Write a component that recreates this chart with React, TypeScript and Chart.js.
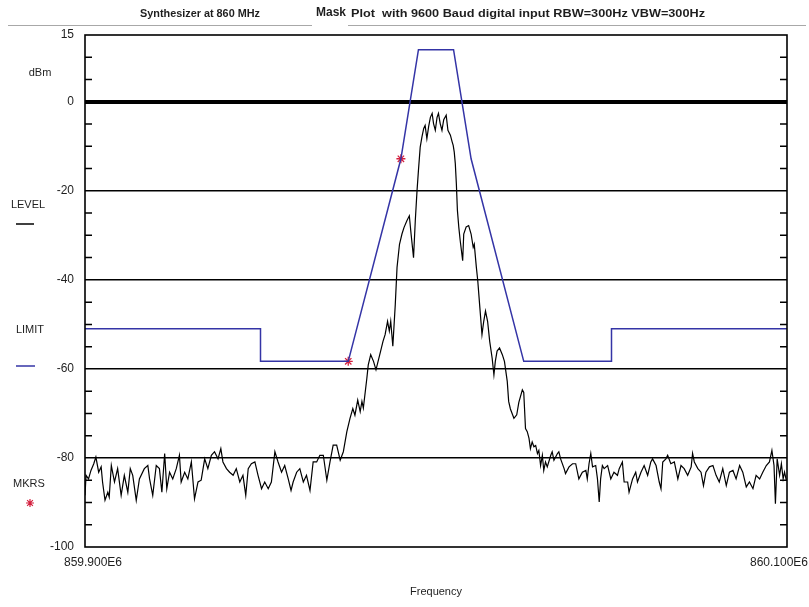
import React, { useEffect, useRef } from "react";
import { Chart, registerables } from "chart.js";

Chart.register(...registerables);

// ---------- data ----------
const START_HZ = 859.9e6;
const STOP_HZ = 860.1e6;
const Y_MIN = -100;
const Y_MAX = 15;
const Y_STEP = 5;
const Y_LABELED = [15, 0, -20, -40, -60, -80, -100];
const Y_GRID = [0, -20, -40, -60, -80];
const X_TICK_VALUES = [START_HZ, STOP_HZ];
const X_TICK_LABELS = ["859.900E6", "860.100E6"];

// measured trace: offset from start frequency (kHz) and level (dBm)
const TRACE_KHZ = [
  0, 0.3, 1.0, 1.7, 2.5, 3.1, 3.9, 4.6, 5.0, 5.7, 6.5, 6.9, 7.5, 8.4, 9.3, 10.3, 11.2, 12.2, 12.9, 13.6,
  14.6, 15.5, 16.9, 17.9, 18.4, 19.3, 20.3, 21.2, 21.9, 22.7, 23.3, 24.1, 25.0, 26.0, 26.9, 27.4, 28.4, 29.3, 30.3, 31.2,
  32.2, 33.1, 34.1, 35.0, 36.0, 36.9, 37.9, 38.7, 39.3, 40.3, 41.2, 42.2, 43.1, 44.1, 45.0, 45.8, 46.5, 47.4, 48.4, 49.3,
  50.3, 51.2, 52.2, 53.1, 54.1, 55.0, 56.0, 56.9, 57.9, 58.7, 59.3, 60.3, 61.2, 62.2, 63.1, 64.1, 65.0, 66.0, 66.9, 67.9,
  68.9, 69.8, 70.7, 71.7, 72.7, 73.6, 74.6, 75.5, 76.3, 76.9, 77.7, 78.4, 78.9, 79.3, 80.3, 80.7, 81.4, 82.2, 82.9, 84.1,
  84.9, 85.5, 86.2, 86.7, 87.1, 87.7, 88.4, 88.9, 89.6, 90.3, 90.9, 91.7, 92.4, 92.9, 93.6, 94.1, 94.6, 95.0, 95.5, 96.0,
  96.5, 96.9, 97.4, 97.9, 98.4, 98.9, 99.3, 99.8, 100.3, 100.7, 101.2, 101.7, 102.2, 102.9, 103.4, 104.1, 104.6, 104.9, 105.2, 105.5,
  105.8, 106.1, 106.5, 106.9, 107.6, 107.9, 108.6, 109.3, 110.0, 110.6, 110.9, 111.5, 111.9, 112.5, 113.1, 113.6, 114.1, 114.7, 115.3, 116.0,
  116.5, 116.9, 117.4, 118.1, 118.9, 119.5, 120.3, 120.7, 121.2, 122.2, 123.0, 123.6, 124.6, 125.0, 125.5, 126.0, 126.5, 126.9, 127.4, 127.9,
  128.4, 128.9, 129.3, 129.8, 130.3, 130.7, 131.2, 131.7, 132.7, 133.1, 133.6, 134.6, 135.0, 135.5, 136.5, 136.9, 137.9, 138.9, 139.8, 140.7,
  141.7, 142.7, 143.1, 143.6, 144.1, 144.6, 145.5, 146.0, 146.5, 146.9, 147.4, 147.9, 148.9, 149.8, 150.7, 151.7, 152.2, 153.1, 153.6, 154.6,
  155.0, 156.0, 156.9, 157.4, 158.4, 159.3, 160.3, 161.2, 161.7, 162.7, 163.6, 164.1, 164.6, 165.5, 166.0, 166.9, 167.9, 168.9, 169.8, 170.7,
  171.7, 172.7, 173.1, 173.6, 174.6, 175.5, 176.2, 176.9, 177.9, 178.9, 179.8, 180.7, 181.7, 182.7, 183.6, 184.6, 185.5, 186.5, 187.4, 188.4,
  189.3, 190.3, 191.2, 192.2, 193.1, 194.1, 195.0, 195.7, 196.3, 196.7, 197.2, 197.9, 198.4, 198.9, 199.3, 199.8,
];
const TRACE_DBM = [
  -88.4, -83.9, -84.7, -82.8, -81.3, -79.8, -83.2, -82.0, -85.4, -89.5, -87.7, -88.8, -81.7, -85.4, -82.4, -88.4, -83.9, -87.7, -82.4, -83.9,
  -89.5, -84.7, -82.4, -81.7, -84.7, -88.4, -81.7, -82.4, -87.7, -79.0, -86.9, -83.2, -84.7, -82.4, -79.4, -85.4, -83.2, -84.7, -80.9, -89.2,
  -85.4, -85.0, -80.2, -82.4, -79.4, -78.6, -80.2, -77.9, -80.9, -82.4, -83.2, -83.9, -82.4, -85.4, -83.9, -88.4, -82.4, -81.3, -80.9, -83.9,
  -86.9, -85.4, -86.9, -85.4, -78.6, -80.9, -83.2, -81.7, -84.7, -87.3, -85.4, -83.2, -82.4, -85.4, -83.9, -87.3, -80.9, -80.9, -79.4, -79.4,
  -85.0, -80.9, -77.1, -77.1, -80.5, -78.6, -74.1, -71.1, -68.9, -70.4, -67.0, -69.6, -67.3, -68.8, -62.1, -59.1, -56.8, -58.3, -60.2, -56.4,
  -53.8, -52.3, -49.3, -51.5, -49.3, -54.9, -45.5, -37.2, -32.0, -29.7, -28.2, -26.7, -25.6, -29.7, -35.0, -26.7, -19.9, -15.4, -10.2, -7.9,
  -6.0, -5.3, -8.3, -5.6, -3.5, -2.6, -4.9, -6.4, -3.5, -2.6, -4.9, -6.4, -4.0, -3.0, -6.4, -7.5, -9.0, -9.8, -11.3, -13.9,
  -18.4, -24.4, -28.2, -31.2, -35.7, -29.7, -28.1, -27.8, -29.7, -32.7, -32.0, -37.2, -40.2, -46.3, -52.3, -49.3, -47.0, -49.3, -53.8, -57.6,
  -61.3, -58.3, -56.0, -55.3, -56.8, -58.3, -62.8, -67.3, -69.0, -71.1, -70.3, -67.5, -64.7, -65.3, -73.4, -74.1, -75.6, -77.9, -76.4, -77.5,
  -77.2, -79.0, -78.3, -81.7, -79.4, -82.8, -80.9, -82.0, -79.4, -78.6, -80.5, -79.0, -78.6, -80.2, -82.4, -83.5, -82.0, -81.3, -81.3, -84.7,
  -83.2, -82.8, -84.7, -81.3, -79.0, -82.0, -81.7, -84.7, -89.9, -84.7, -81.7, -82.4, -81.7, -84.7, -83.2, -83.9, -82.4, -80.9, -85.4, -85.4,
  -87.7, -84.7, -83.2, -85.4, -83.2, -81.7, -83.9, -80.9, -80.2, -81.7, -85.4, -86.9, -80.9, -80.2, -79.4, -81.3, -80.9, -84.7, -81.7, -82.4,
  -83.9, -82.0, -79.0, -80.9, -82.4, -83.2, -86.2, -83.2, -82.0, -81.7, -83.9, -85.4, -82.4, -86.2, -83.2, -82.8, -84.7, -81.7, -83.2, -86.5,
  -85.4, -86.9, -83.9, -84.7, -83.2, -81.7, -80.9, -78.3, -81.7, -90.3, -80.2, -83.9, -81.3, -84.7, -83.2, -85.0,
];

// limit mask
const LIMIT_KHZ = [0, 50, 50, 75, 90, 95, 105, 110, 125, 150, 150, 200];
const LIMIT_DBM = [-51, -51, -58.3, -58.3, -12.8, 11.7, 11.7, -12.8, -58.3, -58.3, -51, -51];

// markers
const MARKER_KHZ = [75, 90];
const MARKER_DBM = [-58.3, -12.8];

// texts
const TITLE_LEFT = "Synthesizer at 860 MHz";
const TITLE_MASK = "Mask";
const TITLE_RIGHT = "Plot  with 9600 Baud digital input RBW=300Hz VBW=300Hz";
const Y_UNIT = "dBm";
const X_TITLE = "Frequency";
const LEGEND_LABELS = ["LEVEL", "LIMIT", "MKRS"];

// colours
const TRACE_COLOR = "#000000";
const LIMIT_COLOR = "#3434a6";
const MARKER_COLOR = "#d4203f";
const TEXT_COLOR = "#1e1e1e";
const FONT = "'Liberation Sans', Arial, sans-serif";

const toXY = (khz: number[], dbm: number[]) =>
  khz.map((k, i) => ({ x: START_HZ + k * 1000, y: dbm[i] }));

function fitted(ctx: CanvasRenderingContext2D, text: string, left: number, y: number, width: number) {
  const w = ctx.measureText(text).width;
  ctx.save();
  ctx.translate(left, y);
  ctx.scale(width / w, 1);
  ctx.textAlign = "left";
  ctx.fillText(text, 0, 0);
  ctx.restore();
}

function asterisk(ctx: CanvasRenderingContext2D, cx: number, cy: number, r: number) {
  ctx.beginPath();
  ctx.moveTo(cx - r, cy); ctx.lineTo(cx + r, cy);
  ctx.moveTo(cx, cy - r); ctx.lineTo(cx, cy + r);
  const d = r * 0.72;
  ctx.moveTo(cx - d, cy - d); ctx.lineTo(cx + d, cy + d);
  ctx.moveTo(cx - d, cy + d); ctx.lineTo(cx + d, cy - d);
  ctx.stroke();
}

const decor = {
  id: "decor",
  beforeDraw(chart: any) {
    const { ctx, width, height } = chart;
    ctx.save();
    ctx.fillStyle = "#ffffff";
    ctx.fillRect(0, 0, width, height);
    ctx.restore();
  },
  afterDraw(chart: any) {
    const { ctx, chartArea: a, scales } = chart;
    const ys = scales.y;
    const xs = scales.x;
    ctx.save();
    // minor ticks inside both borders
    ctx.strokeStyle = "#000";
    ctx.lineWidth = 1.5;
    for (let v = Y_MIN + Y_STEP; v < Y_MAX; v += Y_STEP) {
      if (Y_GRID.includes(v)) continue;
      const py = ys.getPixelForValue(v);
      ctx.beginPath();
      ctx.moveTo(a.left, py); ctx.lineTo(a.left + 7, py);
      ctx.moveTo(a.right - 7, py); ctx.lineTo(a.right, py);
      ctx.stroke();
    }
    // frame
    ctx.lineWidth = 1.6;
    ctx.strokeRect(a.left, a.top, a.right - a.left, a.bottom - a.top);

    // x tick labels
    ctx.fillStyle = TEXT_COLOR;
    ctx.font = `12px ${FONT}`;
    ctx.textAlign = "center";
    ctx.textBaseline = "middle";
    X_TICK_VALUES.forEach((v, i) => {
      const px = xs.getPixelForValue(v) + (i === 0 ? 8 : -8);
      ctx.fillText(X_TICK_LABELS[i], px, a.bottom + 16);
    });
    ctx.font = `11px ${FONT}`;
    ctx.fillText(X_TITLE, (a.left + a.right) / 2, 592);

    // title
    ctx.textBaseline = "middle";
    ctx.font = `bold 11px ${FONT}`;
    fitted(ctx, TITLE_LEFT, 140, 13.5, 120);
    ctx.font = `bold 13px ${FONT}`;
    fitted(ctx, TITLE_MASK, 316, 12.5, 30);
    ctx.font = `bold 11px ${FONT}`;
    fitted(ctx, TITLE_RIGHT, 351, 13.5, 354);
    ctx.strokeStyle = "#a8a8a8";
    ctx.lineWidth = 1;
    ctx.beginPath();
    ctx.moveTo(8, 25.5); ctx.lineTo(312, 25.5);
    ctx.moveTo(348, 25.5); ctx.lineTo(806, 25.5);
    ctx.stroke();

    // left-side legend
    ctx.fillStyle = TEXT_COLOR;
    ctx.font = `11px ${FONT}`;
    ctx.textAlign = "center";
    ctx.fillText(Y_UNIT, 40, 73);
    ctx.fillText(LEGEND_LABELS[0], 28, 205);
    ctx.fillText(LEGEND_LABELS[1], 30, 330);
    ctx.fillText(LEGEND_LABELS[2], 29, 484);
    ctx.lineWidth = 1.5;
    ctx.strokeStyle = TRACE_COLOR;
    ctx.beginPath(); ctx.moveTo(16, 224); ctx.lineTo(34, 224); ctx.stroke();
    ctx.strokeStyle = LIMIT_COLOR;
    ctx.beginPath(); ctx.moveTo(16, 366); ctx.lineTo(35, 366); ctx.stroke();
    ctx.strokeStyle = MARKER_COLOR;
    ctx.lineWidth = 1.2;
    asterisk(ctx, 30, 503, 4);
    ctx.restore();
  },
};

export default function App() {
  const ref = useRef<HTMLCanvasElement | null>(null);

  useEffect(() => {
    document.body.style.margin = "0";
    const canvas = ref.current;
    if (!canvas) return;
    const chart = new Chart(canvas, {
      type: "scatter",
      data: {
        datasets: [
          {
            label: "LIMIT",
            data: toXY(LIMIT_KHZ, LIMIT_DBM),
            showLine: true,
            borderColor: LIMIT_COLOR,
            borderWidth: 1.5,
            pointRadius: 0,
            tension: 0,
          },
          {
            label: "LEVEL",
            data: toXY(TRACE_KHZ, TRACE_DBM),
            showLine: true,
            borderColor: TRACE_COLOR,
            borderWidth: 1.2,
            pointRadius: 0,
            tension: 0,
          },
          {
            label: "MKRS",
            data: toXY(MARKER_KHZ, MARKER_DBM),
            showLine: false,
            pointStyle: "star",
            pointRadius: 4.5,
            pointBorderColor: MARKER_COLOR,
            pointBackgroundColor: MARKER_COLOR,
            pointBorderWidth: 1.3,
          },
        ],
      },
      options: {
        animation: false,
        responsive: false,
        devicePixelRatio: 1,
        layout: { padding: { top: 35, right: 22, bottom: 60, left: 0 } },
        plugins: { legend: { display: false }, tooltip: { enabled: false }, title: { display: false } },
        scales: {
          x: { type: "linear", min: START_HZ, max: STOP_HZ, display: false },
          y: {
            min: Y_MIN,
            max: Y_MAX,
            afterFit: (s: any) => { s.width = 85; },
            border: { display: false },
            grid: {
              drawTicks: false,
              color: (c: any) => (c.tick && Y_GRID.includes(c.tick.value) ? "#000000" : "rgba(0,0,0,0)"),
              lineWidth: (c: any) => (c.tick && c.tick.value === 0 ? 4 : 1.5),
            },
            ticks: {
              stepSize: Y_STEP,
              autoSkip: false,
              padding: 11,
              color: TEXT_COLOR,
              font: { family: FONT, size: 12 },
              callback: (v: any) => (Y_LABELED.includes(Number(v)) ? String(v) : ""),
            },
          },
        },
      },
      plugins: [decor],
    });
    return () => chart.destroy();
  }, []);

  return (
    <div style={{ position: "fixed", left: 0, top: 0, width: 809, height: 607, background: "#fff" }}>
      <canvas ref={ref} width={809} height={607} />
    </div>
  );
}
